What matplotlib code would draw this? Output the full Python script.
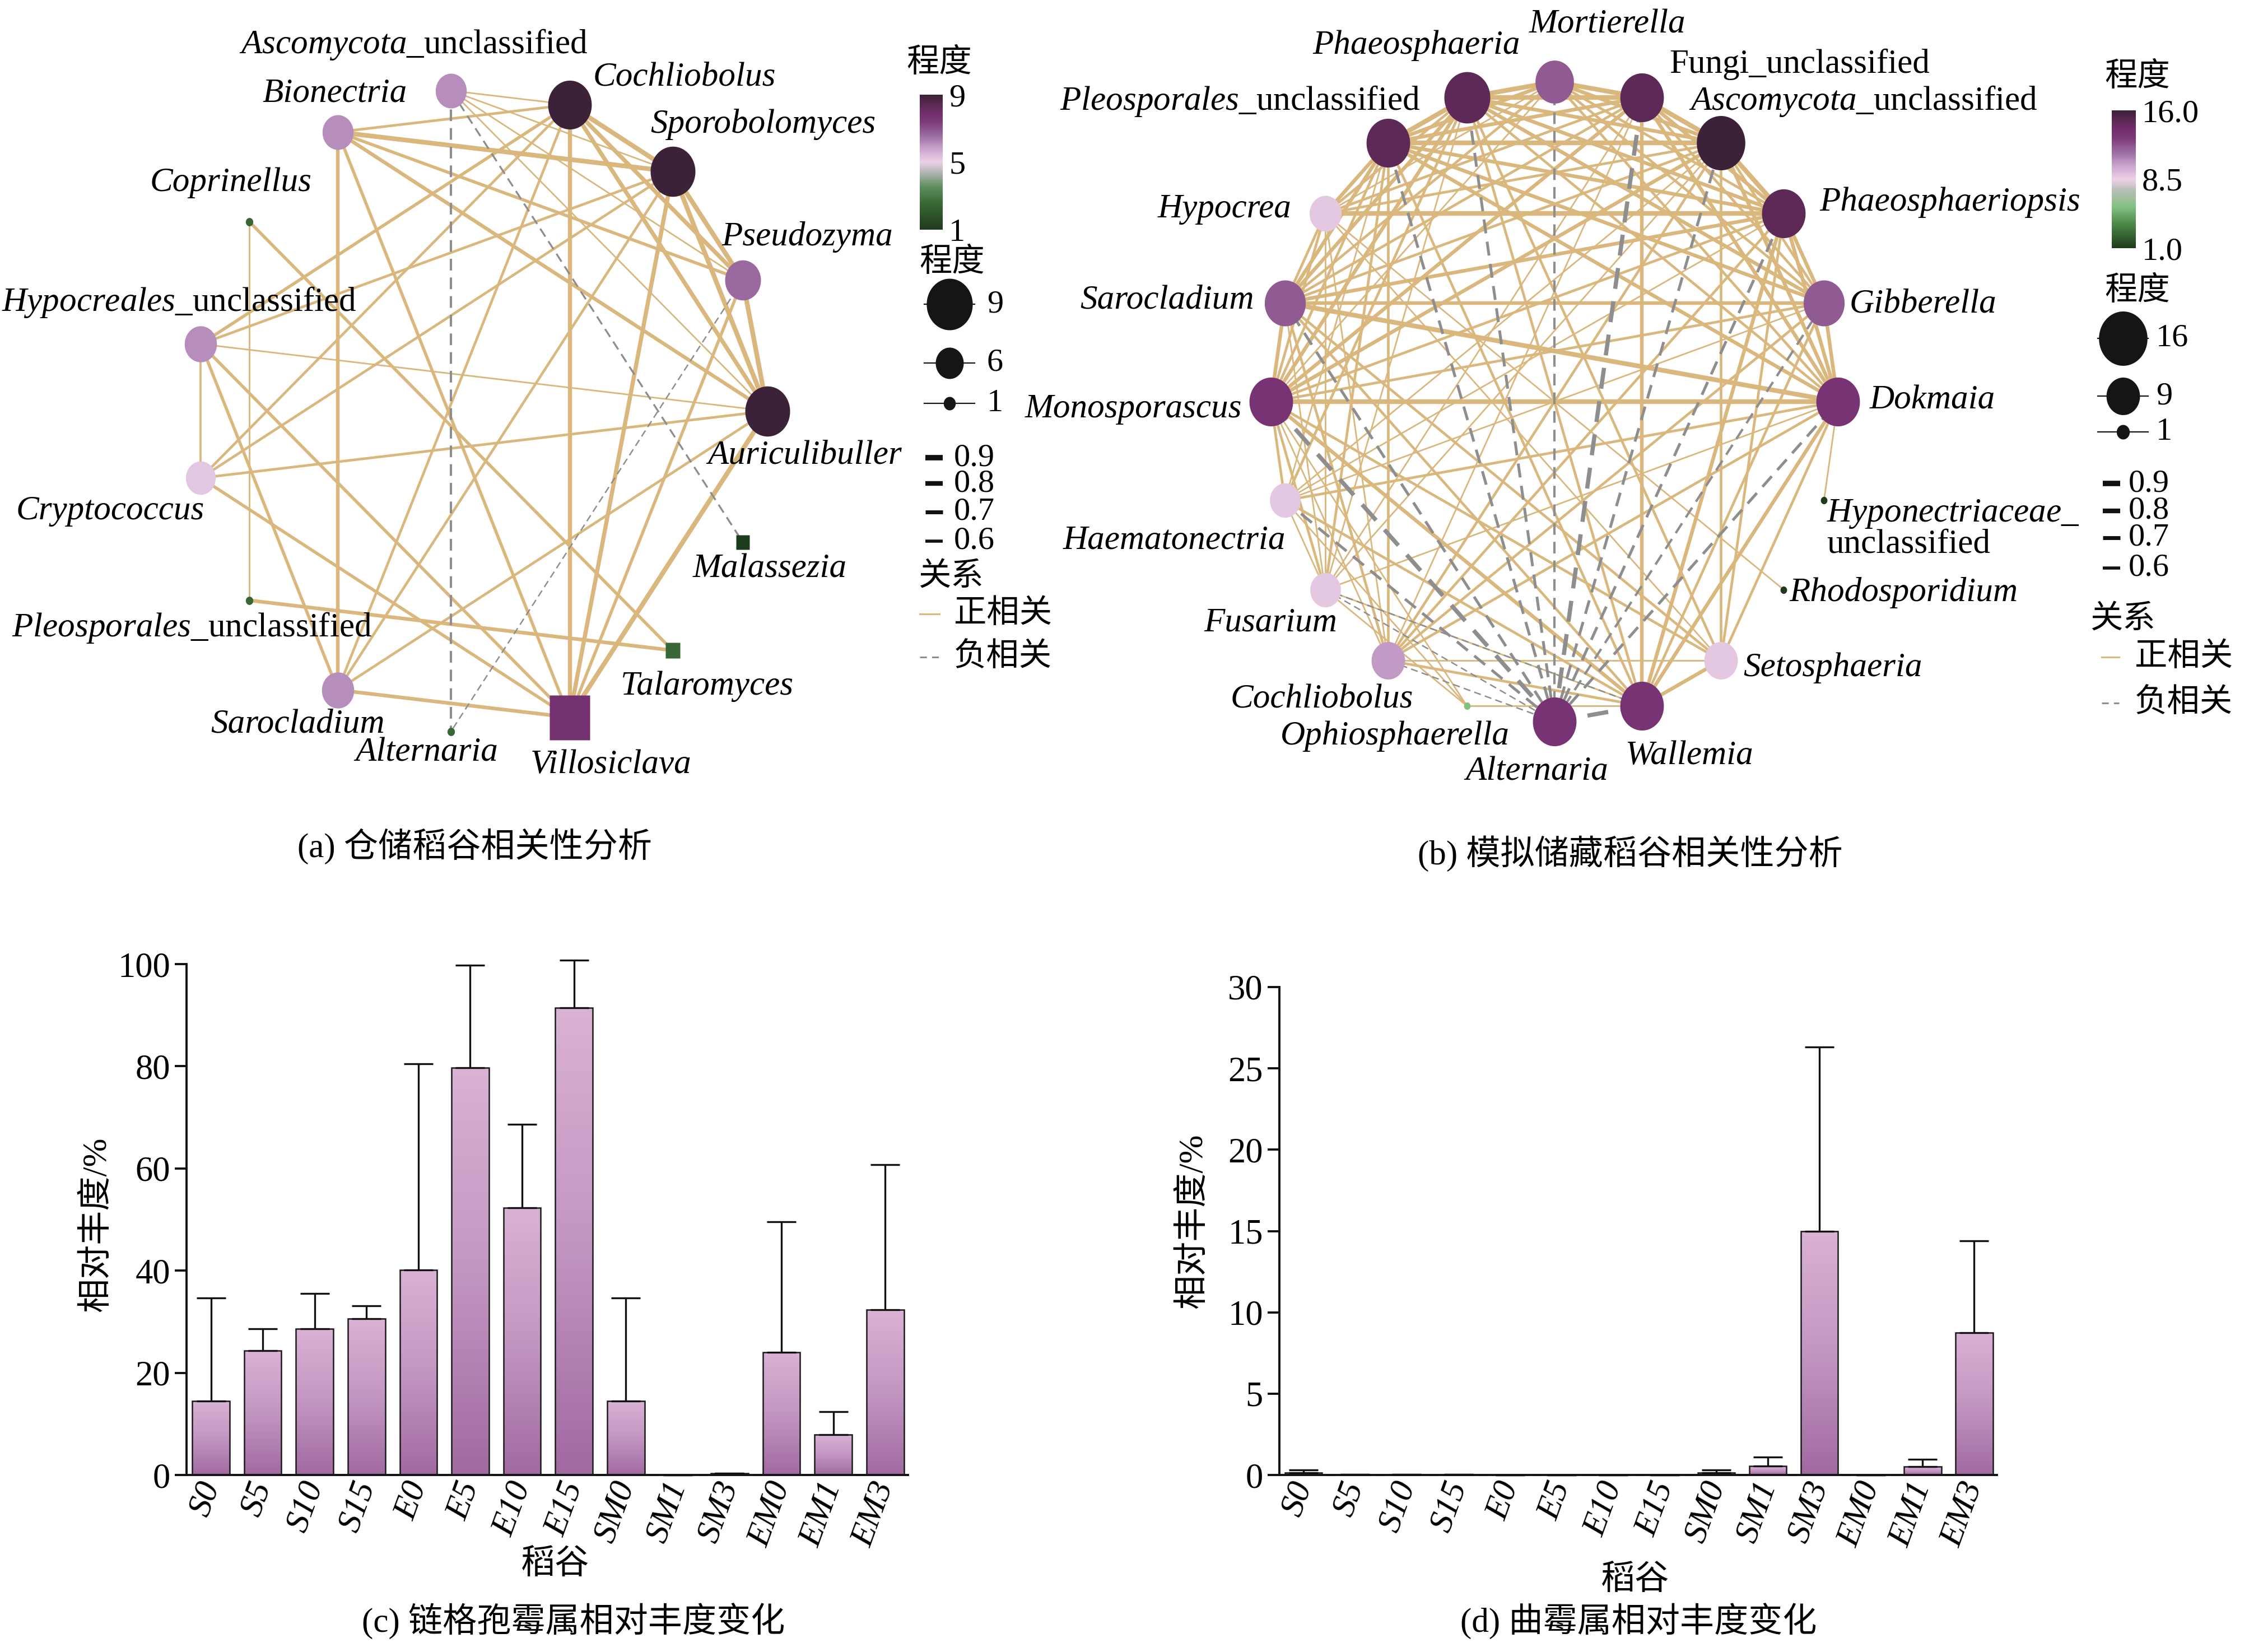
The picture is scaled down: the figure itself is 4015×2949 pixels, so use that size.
import numpy as np
import matplotlib
matplotlib.use('Agg')
import matplotlib.pyplot as plt
from matplotlib.colors import LinearSegmentedColormap, Normalize
from matplotlib.path import Path
import matplotlib.colorbar as mcolorbar

plt.rcParams['font.family'] = ['Liberation Serif', 'Noto Sans CJK SC']
plt.rcParams['mathtext.fontset'] = 'custom'
plt.rcParams['mathtext.rm'] = 'Liberation Serif'
plt.rcParams['mathtext.it'] = 'Liberation Serif:italic'
plt.rcParams['axes.unicode_minus'] = False

# ======================= DATA =======================
# ---- (a) network: warehouse-stored paddy ----
nodes_a = ['Auriculibuller', 'Pseudozyma', 'Sporobolomyces', 'Cochliobolus',
           'Ascomycota_unclassified', 'Bionectria', 'Coprinellus',
           'Hypocreales_unclassified', 'Cryptococcus', 'Pleosporales_unclassified',
           'Sarocladium', 'Alternaria', 'Villosiclava', 'Talaromyces', 'Malassezia']
labels_a = ['Auriculibuller', 'Pseudozyma', 'Sporobolomyces', 'Cochliobolus',
            r'$\mathit{Ascomycota}$_unclassified', 'Bionectria', 'Coprinellus',
            r'$\mathit{Hypocreales}$_unclassified', 'Cryptococcus',
            r'$\mathit{Pleosporales}$_unclassified',
            'Sarocladium', 'Alternaria', 'Villosiclava', 'Talaromyces', 'Malassezia']
degree_color_a = [9, 6.6, 9, 9, 6.1, 6.1, 2.5, 6.1, 5.2, 2.5, 6.1, 2.5, 7.8, 2.5, 1]
degree_size_a = [8.8, 7.3, 8.8, 8.6, 6.5, 6.5, 0.35, 6.7, 6.3, 0.35, 6.7, 0.35, 8.0, 1.6, 1.4]
shape_a = ['e', 'e', 'e', 'e', 'e', 'e', 'e', 'e', 'e', 'e', 'e', 'e', 'r', 'r', 'r']
# (source, target, |r|, sign)
edges_a = [
    (4, 3, 0.6, 1), (4, 2, 0.6, 1), (4, 1, 0.6, 1), (4, 0, 0.6, 1),
    (4, 11, 0.7, -1), (4, 14, 0.65, -1),
    (5, 3, 0.7, 1), (5, 2, 0.9, 1), (5, 1, 0.75, 1), (5, 0, 0.8, 1), (5, 10, 0.8, 1), (5, 12, 0.75, 1),
    (3, 2, 0.9, 1), (3, 1, 0.85, 1), (3, 0, 0.85, 1), (3, 12, 0.85, 1), (3, 7, 0.75, 1),
    (3, 8, 0.7, 1), (3, 10, 0.7, 1),
    (2, 1, 0.9, 1), (2, 0, 0.9, 1), (2, 12, 0.85, 1), (2, 7, 0.7, 1), (2, 8, 0.7, 1), (2, 10, 0.7, 1),
    (1, 0, 0.9, 1), (1, 12, 0.75, 1), (1, 11, 0.6, -1),
    (0, 7, 0.6, 1), (0, 8, 0.7, 1), (0, 12, 0.9, 1), (0, 10, 0.7, 1),
    (6, 9, 0.6, 1), (6, 13, 0.75, 1),
    (7, 8, 0.65, 1), (7, 10, 0.75, 1), (7, 12, 0.75, 1),
    (8, 12, 0.75, 1),
    (9, 13, 0.8, 1),
    (10, 12, 0.8, 1),
]

# ---- (b) network: simulated storage paddy ----
nodes_b = ['Dokmaia', 'Gibberella', 'Phaeosphaeriopsis', 'Ascomycota_unclassified',
           'Fungi_unclassified', 'Mortierella', 'Phaeosphaeria', 'Pleosporales_unclassified',
           'Hypocrea', 'Sarocladium', 'Monosporascus', 'Haematonectria', 'Fusarium',
           'Cochliobolus', 'Ophiosphaerella', 'Alternaria', 'Wallemia', 'Setosphaeria',
           'Rhodosporidium', 'Hyponectriaceae_unclassified']
labels_b = ['Dokmaia', 'Gibberella', 'Phaeosphaeriopsis', r'$\mathit{Ascomycota}$_unclassified',
            'Fungi_unclassified', 'Mortierella', 'Phaeosphaeria',
            r'$\mathit{Pleosporales}$_unclassified',
            'Hypocrea', 'Sarocladium', 'Monosporascus', 'Haematonectria', 'Fusarium',
            'Cochliobolus', 'Ophiosphaerella', 'Alternaria', 'Wallemia', 'Setosphaeria',
            'Rhodosporidium', '$\\mathit{Hyponectriaceae}$_\nunclassified']
degree_color_b = [13.5, 12, 14.8, 16, 14.8, 12, 14.8, 14.8, 8.8, 12, 13.5, 8.8, 8.8,
                  10.2, 5.5, 13.5, 13.5, 8.8, 1, 1]
degree_size_b = [13.7, 12.5, 13.7, 16, 13.7, 11.3, 14.8, 13.7, 8.4, 12.5, 13.7, 7.9, 7.9,
                 9, 0.2, 13.7, 13.7, 9, 0.2, 0.2]
shape_b = ['e'] * 20
edges_b = [
    (3, 4, 0.9, 1), (3, 2, 0.9, 1), (3, 5, 0.8, 1), (3, 6, 0.8, 1), (3, 7, 0.9, 1), (3, 0, 0.8, 1),
    (3, 1, 0.7, 1), (3, 8, 0.7, 1), (3, 9, 0.7, 1), (3, 10, 0.8, 1), (3, 11, 0.6, 1), (3, 12, 0.6, 1),
    (3, 13, 0.7, 1), (3, 17, 0.7, 1),
    (2, 4, 0.8, 1), (2, 5, 0.7, 1), (2, 6, 0.8, 1), (2, 7, 0.8, 1), (2, 8, 0.9, 1), (2, 9, 0.8, 1),
    (2, 10, 0.7, 1), (2, 0, 0.8, 1), (2, 1, 0.8, 1), (2, 11, 0.6, 1), (2, 13, 0.7, 1), (2, 17, 0.7, 1),
    (4, 5, 0.9, 1), (4, 6, 0.9, 1), (4, 7, 0.8, 1), (4, 8, 0.7, 1), (4, 9, 0.7, 1), (4, 10, 0.8, 1),
    (4, 0, 0.8, 1), (4, 1, 0.7, 1), (4, 12, 0.6, 1), (4, 13, 0.6, 1),
    (6, 5, 0.9, 1), (6, 7, 0.9, 1), (6, 8, 0.7, 1), (6, 9, 0.8, 1), (6, 10, 0.8, 1), (6, 0, 0.7, 1),
    (6, 1, 0.8, 1), (6, 11, 0.7, 1), (6, 12, 0.6, 1), (6, 17, 0.7, 1),
    (7, 5, 0.8, 1), (7, 8, 0.8, 1), (7, 9, 0.8, 1), (7, 10, 0.7, 1), (7, 0, 0.8, 1), (7, 1, 0.8, 1),
    (7, 11, 0.6, 1), (7, 12, 0.7, 1), (7, 13, 0.7, 1),
    (5, 9, 0.7, 1), (5, 10, 0.6, 1), (5, 0, 0.7, 1), (5, 1, 0.7, 1), (5, 8, 0.6, 1),
    (0, 10, 0.9, 1), (0, 9, 0.9, 1), (0, 1, 0.8, 1), (0, 11, 0.7, 1), (0, 12, 0.6, 1), (0, 13, 0.7, 1),
    (0, 17, 0.7, 1),
    (1, 9, 0.8, 1), (1, 10, 0.7, 1), (1, 11, 0.6, 1), (1, 13, 0.7, 1),
    (9, 10, 0.8, 1), (9, 8, 0.7, 1), (9, 12, 0.6, 1), (9, 13, 0.7, 1), (9, 17, 0.7, 1),
    (10, 8, 0.7, 1), (10, 11, 0.7, 1), (10, 12, 0.7, 1), (10, 13, 0.6, 1), (10, 17, 0.7, 1),
    (8, 12, 0.6, 1), (8, 13, 0.6, 1), (8, 17, 0.6, 1),
    (11, 12, 0.6, 1), (13, 17, 0.6, 1),
    (16, 4, 0.8, 1), (16, 2, 0.8, 1), (16, 1, 0.7, 1), (16, 0, 0.8, 1), (16, 9, 0.7, 1),
    (16, 10, 0.8, 1), (16, 7, 0.7, 1), (16, 6, 0.7, 1), (16, 11, 0.7, 1), (16, 12, 0.6, 1),
    (16, 13, 0.7, 1), (16, 17, 0.8, 1), (16, 14, 0.6, 1),
    (14, 12, 0.6, 1), (14, 11, 0.6, 1), (14, 10, 0.6, 1),
    (18, 8, 0.6, 1), (19, 0, 0.6, 1),
    (15, 5, 0.7, -1), (15, 4, 0.9, -1), (15, 3, 0.75, -1), (15, 6, 0.75, -1), (15, 7, 0.75, -1),
    (15, 2, 0.75, -1), (15, 1, 0.7, -1), (15, 0, 0.75, -1), (15, 9, 0.75, -1), (15, 10, 0.9, -1),
    (15, 11, 0.75, -1), (15, 12, 0.6, -1), (15, 13, 0.6, -1), (15, 16, 0.9, -1),
    (12, 16, 0.6, -1),
]

# ---- (c), (d) bar charts ----
samples = ['S0', 'S5', 'S10', 'S15', 'E0', 'E5', 'E10', 'E15',
           'SM0', 'SM1', 'SM3', 'EM0', 'EM1', 'EM3']
alternaria_mean = [14.5, 24.3, 28.6, 30.6, 40.1, 79.7, 52.3, 91.4, 14.5, 0.0, 0.3, 24.0, 7.9, 32.3]
alternaria_sd = [20.2, 4.3, 6.9, 2.5, 40.4, 20.1, 16.3, 9.4, 20.1, 0.0, 0.0, 25.6, 4.5, 28.4]
aspergillus_mean = [0.15, 0.03, 0.03, 0.03, 0, 0, 0, 0, 0.15, 0.55, 15.0, 0, 0.5, 8.75]
aspergillus_sd = [0.15, 0.0, 0.0, 0.0, 0, 0, 0, 0, 0.15, 0.55, 11.3, 0, 0.45, 5.65]

# ======================= STYLE / LAYOUT =======================
W, H = 4016, 2949
DPI = 100
PT = 72.0 / DPI          # points per pixel
DS = 4016 / 1568.0       # preview-pixel to full-pixel factor
fig = plt.figure(figsize=(W / DPI, H / DPI), dpi=DPI)
fig.patch.set_facecolor('white')

POS = '#d9b77d'
NEG = '#8e8e8e'
LAB = 44
CJK = ['Liberation Serif', 'Noto Sans CJK SC']

cmap_a = LinearSegmentedColormap.from_list('deg_a', [
    (0, '#1f3b1d'), (0.2, '#3a6a36'), (0.32, '#5f8f5f'), (0.42, '#b0b2b0'), (0.5, '#ecd2e8'),
    (0.6, '#c8a4cc'), (0.7, '#9a6aa0'), (0.8, '#7d3a7a'), (0.87, '#712d6c'), (0.93, '#5a2852'),
    (1, '#3c2238')])
cmap_b = LinearSegmentedColormap.from_list('deg_b', [
    (0, '#1f3b1d'), (0.18, '#4f8a4a'), (0.3, '#82c182'), (0.42, '#b8bdb8'), (0.5, '#ecd2e8'),
    (0.6, '#c8a4cc'), (0.7, '#9a6aa0'), (0.8, '#7d3a7a'), (0.87, '#712d6c'), (0.93, '#5a2852'),
    (1, '#3c2238')])
norm_a = Normalize(1, 9)
norm_b = Normalize(1, 16)

_t = np.linspace(0, 2 * np.pi, 80)
ELL = Path(np.column_stack([np.cos(_t) / 1.12, np.sin(_t)]), closed=True)
RECT = Path([(-0.5 / 1.1, -0.5), (0.5 / 1.1, -0.5), (0.5 / 1.1, 0.5), (-0.5 / 1.1, 0.5), (-0.5 / 1.1, -0.5)],
            closed=True)
MARK = {'e': ELL, 'r': RECT}


def size_a(v):
    return np.interp(v, [0, 1, 6, 9], [10, 24, 56, 92])


def size_b(v):
    return np.interp(v, [0, 1, 9, 16], [10, 26, 67, 97])


def edge_lw(r):
    return np.interp(r, [0.6, 0.9], [2.0, 6.0])


def box(left, top, w, h):
    return [left / W, 1 - (top + h) / H, w / W, h / H]


# label offsets (preview pixels, y up) and alignment
off_a = [(26, -31), (45, 30), (63, 33), (80, 19), (-26, 32), (-2, 27), (-13, 27), (-15, 29),
         (-63, -23), (-40, -19), (-28, -24), (-17, -15), (29, -33), (24, -25), (19, -19)]
ha_a = ['center'] * 15
off_b = [(66, 1), (69, -1), (116, 8), (99, 29), (110, 23), (37, 40), (-35, 36), (-103, 29),
         (-70, 3), (-82, 2), (-96, -5), (-77, -28), (-38, -23), (-46, -27), (-50, -21),
         (-12, -35), (33, -35), (78, -5), (4, -2), (2, -20)]
ha_b = ['center'] * 18 + ['left', 'left']


def draw_network(bx, labels, cval, sval, shapes, edges, cmap, norm, smap, offs, has, upright=()):
    ax = fig.add_axes(bx)
    ax.set_xlim(-1.25, 1.25)
    ax.set_ylim(-1.25, 1.25)
    ax.axis('off')
    n = len(labels)
    ang = 2 * np.pi * np.arange(n) / n
    xs, ys = np.cos(ang), np.sin(ang)
    for s, t, r, sg in edges:
        if sg > 0:
            ax.plot([xs[s], xs[t]], [ys[s], ys[t]], color=POS, lw=edge_lw(r),
                    solid_capstyle='butt', zorder=1)
    for s, t, r, sg in edges:
        if sg < 0:
            ax.plot([xs[s], xs[t]], [ys[s], ys[t]], color=NEG, lw=edge_lw(r) * 0.9,
                    ls=(0, (5, 3)), dash_capstyle='butt', zorder=2)
    for i in range(n):
        ax.plot(xs[i], ys[i], marker=MARK[shapes[i]], ms=smap(sval[i]) * PT,
                color=cmap(norm(cval[i])), mec='none', zorder=3, clip_on=False)
        dx, dy = offs[i]
        style = 'normal' if (i in upright or '$' in labels[i]) else 'italic'
        ax.annotate(labels[i], xy=(xs[i], ys[i]), xytext=(dx * DS * PT, dy * DS * PT),
                    textcoords='offset points', ha=has[i], va='center', fontsize=LAB,
                    style=style, family='Liberation Serif', linespacing=0.95,
                    annotation_clip=False, zorder=4)
    return ax


# (a) circle layout: centre (858.7, 733.7), radii (511.4, 575) px
draw_network(box(858.7 - 1.25 * 511.4, 733.7 - 1.25 * 575, 2.5 * 511.4, 2.5 * 575),
             labels_a, degree_color_a, degree_size_a, shape_a, edges_a, cmap_a, norm_a, size_a,
             off_a, ha_a)
# (b) circle layout: centre (2775, 717), radii (506, 571) px
draw_network(box(2775 - 1.25 * 506, 717 - 1.25 * 571, 2.5 * 506, 2.5 * 571),
             labels_b, degree_color_b, degree_size_b, shape_b, edges_b, cmap_b, norm_b, size_b,
             off_b, ha_b, upright=(4,))

# ---------------- bar charts ----------------
bar_cmap = LinearSegmentedColormap.from_list('barg', ['#a16aa1', '#c396c2', '#dab2d4'])
grad = np.linspace(0, 1, 256).reshape(-1, 1)


def draw_bars(bx, means, sds, ymax, ystep, ylab_xy, xlab_xy):
    ax = fig.add_axes(bx)
    ax.set_facecolor('none')
    x = np.arange(len(samples))
    bars = ax.bar(x, means, width=0.72, facecolor='none', edgecolor='#1a1a1a', lw=1.8, zorder=3)
    for b in bars:
        h = b.get_height()
        if h <= 0:
            continue
        ax.imshow(grad, extent=[b.get_x(), b.get_x() + b.get_width(), 0, h], origin='lower',
                  cmap=bar_cmap, aspect='auto', zorder=2, interpolation='bilinear')
    eb = ax.errorbar(x, means, yerr=[np.zeros(len(means)), sds], fmt='none', ecolor='#111111',
                     elinewidth=2.4, capsize=19, capthick=2.4, zorder=4)
    for a in eb.get_children():
        a.set_clip_on(False)
    ax.set_xlim(-0.47, 13.44)
    ax.set_ylim(0, ymax)
    ax.set_yticks(np.arange(0, ymax + 0.1, ystep))
    ax.set_yticklabels([f'{int(v)}' for v in np.arange(0, ymax + 0.1, ystep)])
    for sp in ['top', 'right']:
        ax.spines[sp].set_visible(False)
    for sp in ['left', 'bottom']:
        ax.spines[sp].set_linewidth(2.8)
        ax.spines[sp].set_color('#111111')
    ax.tick_params(axis='y', length=15, width=2.8, labelsize=45, pad=6, direction='out',
                   color='#111111')
    ax.tick_params(axis='x', length=0, pad=10)
    ax.set_xticks(x)
    ax.set_xticklabels(samples, rotation=70, ha='right', va='center', rotation_mode='anchor',
                       style='italic', fontsize=44)
    ax.set_ylabel('相对丰度/%', fontsize=44, family=CJK)
    ax.yaxis.set_label_coords(*ylab_xy)
    ax.set_xlabel('稻谷', fontsize=44, family=CJK)
    ax.xaxis.set_label_coords(*xlab_xy)
    return ax


draw_bars(box(333, 1721, 1288, 912), alternaria_mean, alternaria_sd, 100, 20,
          (-0.102, 0.49), (0.511, -0.146))
draw_bars(box(2284, 1762, 1281, 871), aspergillus_mean, aspergillus_sd, 30, 5,
          (-0.098, 0.52), (0.496, -0.185))

# ---------------- overlay: captions and legends (pixel coordinates) ----------------
lay = fig.add_axes([0, 0, 1, 1])
lay.set_xlim(0, W)
lay.set_ylim(H, 0)
lay.axis('off')
lay.set_zorder(10)
lay.patch.set_visible(False)

lay.text(848, 1511, '(a) 仓储稻谷相关性分析', ha='center', va='center', fontsize=44, family=CJK)
lay.text(2910, 1524, '(b) 模拟储藏稻谷相关性分析', ha='center', va='center', fontsize=44, family=CJK)
lay.text(1024, 2894, '(c) 链格孢霉属相对丰度变化', ha='center', va='center', fontsize=44, family=CJK)
lay.text(2925, 2894, '(d) 曲霉属相对丰度变化', ha='center', va='center', fontsize=44, family=CJK)


def legend(cb_box, cmap, norm, cticks, clabels, t1, t2, sz_x, sz_items, smap, sz_lab_x,
           w_x0, w_x1, w_ys, w_lab_x, rel_t, rel_x0, rel_x1, rel_ys, rel_lab_x):
    cax = fig.add_axes(box(*cb_box))
    cb = mcolorbar.ColorbarBase(cax, cmap=cmap, norm=norm, orientation='vertical')
    cb.outline.set_visible(False)
    cb.set_ticks(cticks)
    cb.set_ticklabels(clabels)
    cax.tick_params(length=0, labelsize=42, pad=8)
    lay.text(*t1, '程度', ha='center', va='center', fontsize=42, family=CJK)
    lay.text(*t2, '程度', ha='center', va='center', fontsize=42, family=CJK)
    for v, y in sz_items:
        lay.plot([sz_x - 45, sz_x + 45], [y, y], color='#151515', lw=1.6)
        lay.plot(sz_x, y, marker=ELL, ms=smap(v) * PT, color='#151515', mec='none')
        lay.text(sz_lab_x, y, f'{v:g}', ha='left', va='center', fontsize=42)
    for r, y in zip([0.9, 0.8, 0.7, 0.6], w_ys):
        lay.plot([w_x0, w_x1], [y, y], color='#111111', lw=np.interp(r, [0.6, 0.9], [4.0, 7.0]),
                 solid_capstyle='butt')
        lay.text(w_lab_x, y, f'{r:.1f}', ha='left', va='center', fontsize=42)
    lay.text(*rel_t, '关系', ha='center', va='center', fontsize=42, family=CJK)
    lay.plot([rel_x0, rel_x1], [rel_ys[0], rel_ys[0]], color=POS, lw=2.2)
    lay.plot([rel_x0, rel_x1], [rel_ys[1], rel_ys[1]], color=NEG, lw=2.2, ls=(0, (4, 3)))
    lay.text(rel_lab_x, rel_ys[0], '正相关', ha='left', va='center', fontsize=42, family=CJK)
    lay.text(rel_lab_x, rel_ys[1], '负相关', ha='left', va='center', fontsize=42, family=CJK)


legend((1642, 169, 41, 241), cmap_a, norm_a, [1, 5, 9], ['1', '5', '9'],
       (1677, 113), (1700, 469), 1695, [(9, 543), (6, 648), (1, 720)], size_a, 1762,
       1652, 1683, [817, 863, 914, 966], 1703,
       (1698, 1030), 1642, 1677, (1096, 1173), 1703)
legend((3770, 197, 43, 246), cmap_b, norm_b, [1, 8.5, 16], ['1.0', '8.5', '16.0'],
       (3816, 138), (3816, 520), 3790, [(16, 604), (9, 707), (1, 771)], size_b, 3849,
       3754, 3785, [863, 912, 960, 1014], 3800,
       (3790, 1106), 3752, 3783, (1173, 1255), 3811)

fig.savefig('out.png', dpi=DPI, facecolor='white')
